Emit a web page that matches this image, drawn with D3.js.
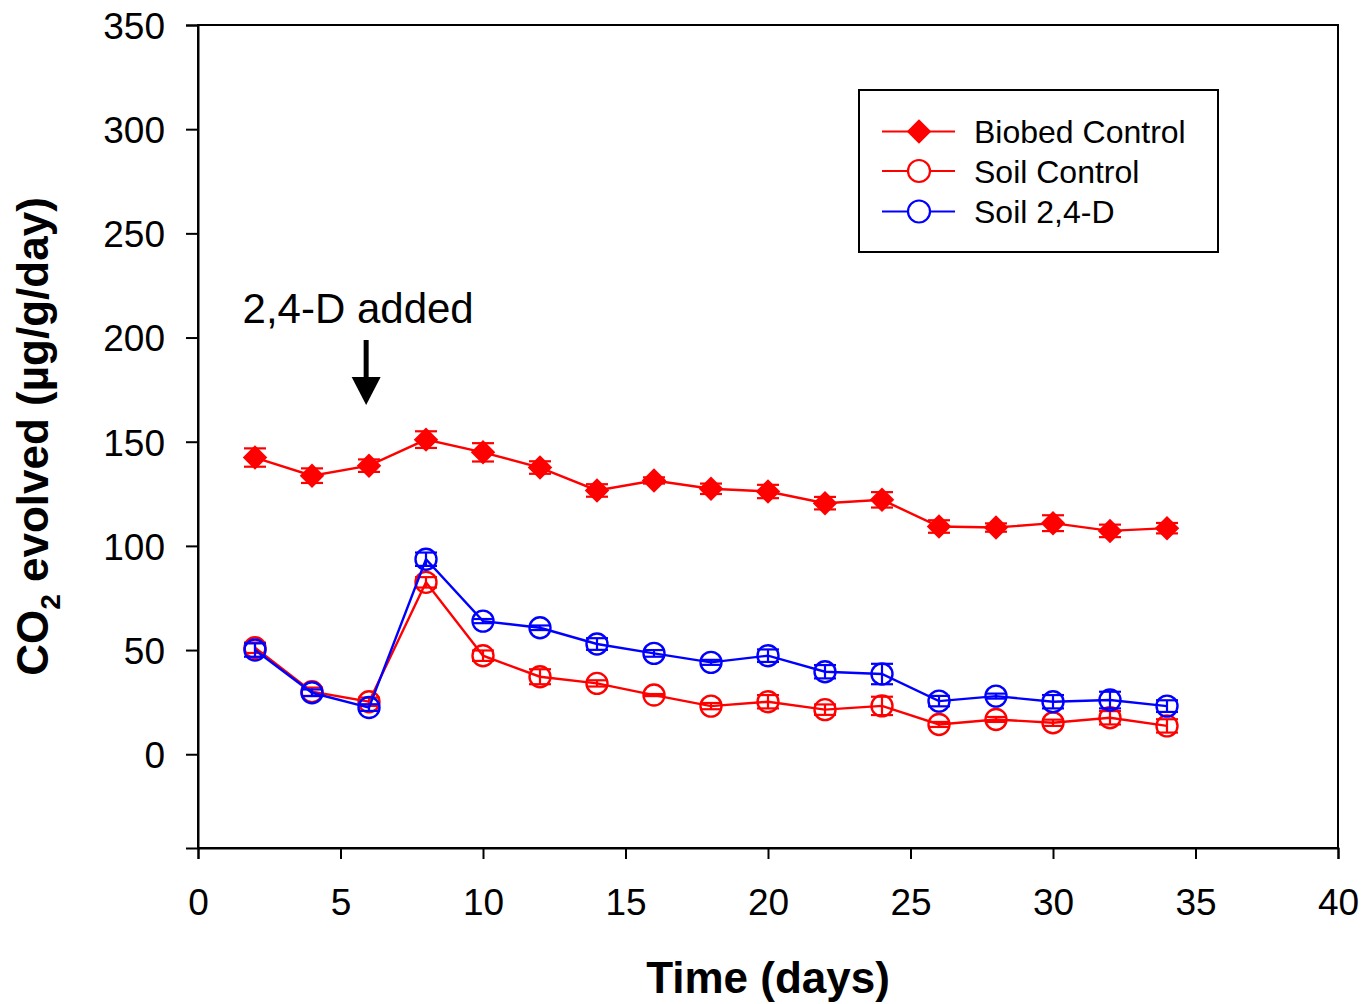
<!DOCTYPE html>
<html>
<head>
<meta charset="utf-8">
<script src="https://cdn.jsdelivr.net/npm/d3@7"></script>
<style>
  html, body { margin: 0; padding: 0; background: #fff; }
  svg { display: block; }
  text { font-family: Arial, "Liberation Sans", sans-serif; fill: #000; }
</style>
</head>
<body>
<svg id="chart" width="1366" height="1004"></svg>
<script>
// Sampling days
const days = [2, 4, 6, 8, 10, 12, 14, 16, 18, 20, 22, 24, 26, 28, 30, 32, 34];

// CO2 evolution rates (µg/g/day) with standard errors
const biobedControl    = [142.4, 133.7, 138.5, 151.0, 144.9, 137.6, 126.6, 131.4, 127.4, 126.1, 120.5, 122.1, 109.3, 108.8, 110.9, 107.2, 108.5];
const biobedControlErr = [4.4, 3.5, 3.0, 4.0, 4.4, 3.0, 3.0, 1.5, 2.5, 3.2, 3.0, 3.7, 3.0, 2.0, 3.8, 3.0, 2.5];
const soilControl      = [51.1, 30.0, 25.2, 82.5, 47.3, 37.2, 34.0, 28.4, 23.1, 25.2, 21.4, 23.2, 14.3, 16.7, 15.1, 17.5, 13.6];
const soilControlErr   = [2.5, 2.0, 2.0, 2.5, 2.5, 3.6, 1.5, 0.5, 1.5, 3.2, 2.5, 4.4, 1.2, 1.2, 1.5, 3.2, 3.2];
const soil24D          = [50.0, 29.5, 22.4, 93.6, 63.9, 60.7, 52.9, 48.4, 44.1, 47.3, 39.6, 38.5, 25.5, 27.9, 25.2, 26.0, 23.1];
const soil24DErr       = [3.2, 1.6, 1.6, 3.2, 1.0, 1.1, 2.8, 1.6, 1.2, 3.0, 3.2, 4.9, 2.5, 1.2, 3.2, 4.0, 2.8];

const seriesNames = ["Biobed Control", "Soil Control", "Soil 2,4-D"];

const xTicks = [0, 5, 10, 15, 20, 25, 30, 35, 40];
const yTicks = [0, 50, 100, 150, 200, 250, 300, 350];

const additionDay = 5.9;
const additionLabel = "2,4-D added";

const series = [
  { name: seriesNames[0], values: biobedControl, errors: biobedControlErr, color: "#ff0000", marker: "diamond" },
  { name: seriesNames[1], values: soilControl,   errors: soilControlErr,   color: "#ff0000", marker: "circle" },
  { name: seriesNames[2], values: soil24D,       errors: soil24DErr,       color: "#0000ff", marker: "circle" }
];

const svg = d3.select("#chart");
const plotLeft = 198, plotRight = 1338, plotTop = 25, plotBottom = 848;

const x = d3.scaleLinear().domain([0, 40]).range([plotLeft, plotRight]);
const y = d3.scaleLinear().domain([-45, 350]).range([plotBottom, plotTop]);

// Frame
svg.append("rect")
  .attr("x", plotLeft).attr("y", plotTop)
  .attr("width", plotRight - plotLeft).attr("height", plotBottom - plotTop)
  .attr("fill", "none").attr("stroke", "#000").attr("stroke-width", 2);

// Axes
const xAxis = svg.append("g")
  .attr("transform", `translate(0,${plotBottom})`)
  .call(d3.axisBottom(x).tickValues(xTicks).tickSize(11).tickFormat(d3.format("d")));
const yAxis = svg.append("g")
  .attr("transform", `translate(${plotLeft},0)`)
  .call(d3.axisLeft(y).tickValues(yTicks).tickSize(12).tickPadding(21).tickFormat(d3.format("d")));

[xAxis, yAxis].forEach(g => {
  g.select(".domain").attr("stroke", "#000").attr("stroke-width", 2);
  g.selectAll(".tick line").attr("stroke", "#000").attr("stroke-width", 2);
  g.selectAll(".tick text")
    .style("font-family", 'Arial, "Liberation Sans", sans-serif')
    .style("font-size", "37px")
    .attr("fill", "#000");
});
xAxis.selectAll(".tick text").attr("y", 67).attr("dy", 0);
yAxis.selectAll(".tick text").attr("dy", "0.36em");

// Series lines, error bars and markers
const capHalf = 11;
const diamondPath = d3.symbol().type(d3.symbolSquare).size(300);

series.forEach(s => {
  const pts = days.map((d, i) => ({ d, v: s.values[i], e: s.errors[i] }));
  const g = svg.append("g");

  g.append("path")
    .datum(pts)
    .attr("fill", "none")
    .attr("stroke", s.color)
    .attr("stroke-width", 2.4)
    .attr("d", d3.line().x(p => x(p.d)).y(p => y(p.v)));

  if (s.marker === "diamond") {
    g.selectAll(".mk").data(pts).join("path")
      .attr("transform", p => `translate(${x(p.d)},${y(p.v)}) rotate(45)`)
      .attr("d", diamondPath)
      .attr("fill", s.color);
  }

  const eb = g.selectAll(".eb").data(pts).join("g").attr("stroke", s.color).attr("stroke-width", 2.2);
  eb.append("line")
    .attr("x1", p => x(p.d)).attr("x2", p => x(p.d))
    .attr("y1", p => y(p.v - p.e)).attr("y2", p => y(p.v + p.e));
  eb.append("line")
    .attr("x1", p => x(p.d) - capHalf).attr("x2", p => x(p.d) + capHalf)
    .attr("y1", p => y(p.v + p.e)).attr("y2", p => y(p.v + p.e));
  eb.append("line")
    .attr("x1", p => x(p.d) - capHalf).attr("x2", p => x(p.d) + capHalf)
    .attr("y1", p => y(p.v - p.e)).attr("y2", p => y(p.v - p.e));

  if (s.marker === "circle") {
    g.selectAll(".mk").data(pts).join("circle")
      .attr("cx", p => x(p.d)).attr("cy", p => y(p.v))
      .attr("r", 10.5)
      .attr("fill", "none")
      .attr("stroke", s.color)
      .attr("stroke-width", 2.4);
  }
});

// Addition annotation
const ax = x(additionDay);
svg.append("text")
  .attr("x", ax - 8).attr("y", 323)
  .attr("text-anchor", "middle")
  .style("font-size", "42px")
  .text(additionLabel);
svg.append("line")
  .attr("x1", ax).attr("x2", ax)
  .attr("y1", 340).attr("y2", 380)
  .attr("stroke", "#000").attr("stroke-width", 5);
svg.append("path")
  .attr("d", `M${ax - 14.5},377 L${ax + 14.5},377 L${ax},405 Z`)
  .attr("fill", "#000");

// Legend
const legend = svg.append("g");
legend.append("rect")
  .attr("x", 859).attr("y", 90).attr("width", 359).attr("height", 162)
  .attr("fill", "#fff").attr("stroke", "#000").attr("stroke-width", 2);
const rowY = [131.5, 171, 211.5];
series.forEach((s, i) => {
  const ly = rowY[i];
  legend.append("line")
    .attr("x1", 882).attr("x2", 955).attr("y1", ly).attr("y2", ly)
    .attr("stroke", s.color).attr("stroke-width", 2.2);
  if (s.marker === "diamond") {
    legend.append("path")
      .attr("transform", `translate(919,${ly}) rotate(45)`)
      .attr("d", diamondPath)
      .attr("fill", s.color);
  } else {
    legend.append("circle")
      .attr("cx", 919).attr("cy", ly).attr("r", 11)
      .attr("fill", "#fff").attr("stroke", s.color).attr("stroke-width", 2.2);
  }
  legend.append("text")
    .attr("x", 974).attr("y", ly)
    .attr("dy", "0.36em")
    .style("font-size", "32px")
    .text(s.name);
});

// Axis titles
svg.append("text")
  .attr("x", (plotLeft + plotRight) / 2).attr("y", 993)
  .attr("text-anchor", "middle")
  .style("font-size", "44px").style("font-weight", "bold")
  .text("Time (days)");

const yTitle = svg.append("text")
  .attr("transform", `translate(48,${(plotTop + plotBottom) / 2}) rotate(-90)`)
  .attr("text-anchor", "middle")
  .style("font-size", "44px").style("font-weight", "bold");
yTitle.append("tspan").text("CO");
yTitle.append("tspan").attr("dy", 12).style("font-size", "28px").text("2");
yTitle.append("tspan").attr("dy", -12).text(" evolved (µg/g/day)");
</script>
</body>
</html>
